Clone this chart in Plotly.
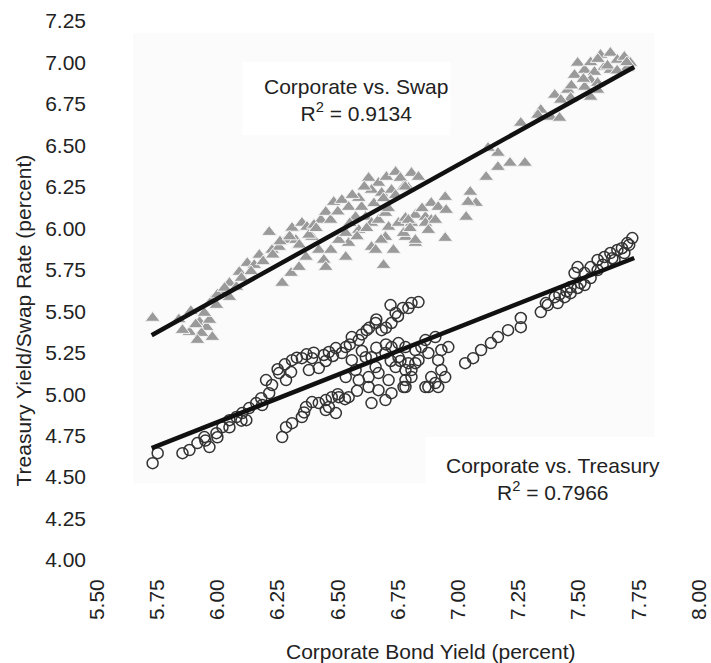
import plotly.graph_objects as go

# Corporate vs. Swap (grey triangles)
swap_x = [5.731, 5.884, 5.926, 5.955, 5.967, 5.934, 5.855, 5.979, 5.917, 5.946,
          6.017, 6.050, 6.091, 6.124, 6.079, 5.979, 5.996, 6.050,
          6.215, 6.227, 6.256, 6.285, 6.310, 6.351, 6.372, 6.326, 6.393, 6.269,
          6.306, 6.339, 6.368, 6.421, 6.442, 6.471, 6.450, 6.533, 6.545, 6.504,
          6.430, 6.450, 6.483, 6.517, 6.545, 6.574, 6.599, 6.616, 6.640, 6.669,
          6.698, 6.711, 6.752, 6.781, 6.806, 6.822, 6.864, 6.888, 6.888,
          6.628, 6.669, 6.702, 6.740, 6.760, 6.806, 6.835, 6.640, 6.682, 6.723,
          6.793, 6.587,
          6.640, 6.657, 6.731, 6.690, 6.822, 6.781, 6.698, 6.587, 6.533,
          6.773, 7.050, 7.074, 7.041, 6.946, 6.917, 6.950, 7.033, 6.864, 6.793,
          6.905, 6.946, 6.822, 6.876, 6.773,
          7.165, 7.124, 7.215, 7.277, 7.165, 7.116, 7.260,
          7.343, 7.384, 7.421, 7.331,
          7.496, 7.525, 7.566, 7.591, 7.632, 7.661, 7.690, 7.715, 7.607, 7.550,
          7.579, 7.525, 7.579, 7.483, 7.455, 7.467, 7.401, 7.426, 7.550, 7.632,
          7.702, 6.174, 6.153, 6.401,
          6.000, 6.030, 6.100, 6.140, 6.190, 6.230, 6.260, 6.300, 6.340, 6.380,
          6.410, 6.470, 6.500, 6.560, 6.610, 6.650, 6.690, 6.740, 6.780, 6.710,
          6.620, 6.580, 6.550, 6.680, 6.850, 6.800, 5.840, 5.890, 5.910, 7.470,
          7.520, 7.620, 7.660, 7.700, 7.550, 7.580]
swap_y = [5.459, 5.374, 5.435, 5.404, 5.447, 5.368, 5.386, 5.344, 5.326, 5.489,
          5.615, 5.670, 5.736, 5.790, 5.646, 5.567, 5.537, 5.585,
          5.977, 5.869, 5.887, 5.929, 6.002, 6.032, 6.008, 5.929, 5.947, 5.670,
          5.730, 5.766, 5.827, 5.869, 5.809, 5.869, 5.766, 5.827, 5.911, 5.929,
          6.050, 6.098, 6.158, 6.170, 6.128, 6.068, 6.128, 6.068, 6.032, 6.050,
          6.092, 6.008, 6.032, 6.062, 6.032, 6.080, 6.068, 6.050, 6.152,
          6.303, 6.273, 6.309, 6.339, 6.303, 6.333, 6.309, 6.231, 6.213, 6.231,
          6.243, 6.182,
          5.887, 5.869, 5.869, 5.778, 5.911, 5.947, 5.947, 5.989, 5.971,
          6.249, 6.219, 6.152, 6.158, 6.188, 6.128, 6.110, 6.068, 6.032, 6.050,
          6.050, 5.941, 5.929, 5.989, 5.971,
          6.454, 6.484, 6.394, 6.394, 6.369, 6.309, 6.635,
          6.713, 6.671, 6.665, 6.683,
          6.997, 6.954, 6.942, 7.045, 7.057, 7.015, 7.033, 6.997, 6.973, 6.894,
          6.876, 6.852, 6.834, 6.924, 6.834, 6.786, 6.804, 6.774, 6.792, 6.954,
          6.967, 5.839, 5.778, 6.020,
          5.600, 5.640, 5.700, 5.740, 5.800, 5.840, 5.920, 5.950, 5.900, 5.960,
          6.000, 6.050, 6.100, 6.200, 6.250, 6.150, 6.180, 6.200, 6.250, 6.120,
          6.000, 5.950, 6.030, 5.930, 6.120, 6.000, 5.450, 5.500, 5.420, 6.860,
          6.900, 6.980, 6.950, 7.000, 7.000, 7.020]

# Corporate vs. Treasury (open circles)
treas_x = [5.731, 5.752, 5.855, 5.884, 5.917, 5.946, 5.967, 5.996, 6.021, 6.050,
           6.079, 6.103, 6.120, 6.132, 6.161, 6.182, 6.186, 6.215, 6.202, 6.227,
           6.256, 6.285, 6.306, 6.310, 6.351, 6.393, 6.380, 6.421, 6.442, 6.463,
           6.492, 6.517, 6.533, 6.558, 6.587, 6.620, 6.657, 6.682, 6.723, 6.719,
           6.740, 6.806, 6.835, 6.793,
           6.269, 6.285, 6.310, 6.351, 6.368, 6.393, 6.450, 6.475, 6.504, 6.545,
           6.450, 6.492, 6.421, 6.463,
           6.640, 6.698, 6.723, 6.669, 6.781, 6.628, 6.669, 6.711, 6.740, 6.781,
           6.806, 6.822, 6.752, 6.698, 6.723, 6.752, 6.640, 6.657, 6.574, 6.533,
           6.587, 6.628, 6.616, 6.558,
           6.847, 6.876, 6.905, 6.930, 6.959, 6.917, 6.864, 6.905, 6.930, 6.946,
           6.888,
           6.781, 6.822, 6.864, 6.835, 6.793, 6.806, 6.781, 6.773, 6.876, 6.917,
           7.029, 7.062, 7.095, 7.136, 7.165, 7.207, 7.260, 7.260,
           7.343, 7.372, 7.413, 7.442, 7.467, 7.496, 7.525,
           7.496, 7.525, 7.550, 7.579, 7.607, 7.632, 7.661, 7.702, 7.723, 7.483,
           7.508, 7.467, 7.401, 7.364, 7.579, 7.649, 7.690,
           6.250, 6.280, 6.330, 6.370, 6.400, 6.450, 6.480, 6.550, 6.600, 6.630,
           6.660, 6.700, 6.750, 6.770, 6.600, 6.660, 6.700, 6.720, 6.760, 6.500,
           6.530, 6.580, 6.360, 6.050, 6.100, 6.000, 5.950, 7.550, 7.600, 7.640,
           7.680, 7.710, 7.450, 7.420]
treas_y = [4.584, 4.644, 4.644, 4.663, 4.705, 4.741, 4.681, 4.765, 4.801, 4.843,
           4.862, 4.886, 4.843, 4.916, 4.946, 4.976, 4.934, 5.006, 5.085, 5.055,
           5.127, 5.085, 5.133, 5.205, 5.217, 5.217, 5.145, 5.157, 5.236, 5.254,
           5.278, 5.248, 5.284, 5.344, 5.326, 5.386, 5.429, 5.386, 5.429, 5.537,
           5.489, 5.549, 5.555, 5.519,
           4.741, 4.801, 4.825, 4.862, 4.922, 4.952, 4.964, 4.982, 4.982, 4.982,
           4.904, 4.886, 4.946, 4.922,
           4.946, 4.964, 5.006, 5.024, 5.043, 5.103, 5.127, 5.085, 5.163, 5.145,
           5.103, 5.187, 5.223, 5.248, 5.284, 5.308, 5.223, 5.163, 5.145, 5.103,
           5.085, 5.043, 5.223, 5.205,
           5.284, 5.248, 5.344, 5.266, 5.284, 5.205, 5.043, 5.067, 5.145, 5.103,
           5.103,
           5.284, 5.266, 5.326, 5.205, 5.187, 5.145, 5.085, 5.043, 5.043, 5.043,
           5.187, 5.217, 5.266, 5.308, 5.344, 5.386, 5.404, 5.459,
           5.495, 5.537, 5.549, 5.585, 5.609, 5.640, 5.658,
           5.766, 5.730, 5.766, 5.809, 5.827, 5.851, 5.869, 5.911, 5.941, 5.730,
           5.670, 5.646, 5.585, 5.549, 5.748, 5.809, 5.851,
           5.150, 5.180, 5.220, 5.240, 5.250, 5.200, 5.230, 5.300, 5.360, 5.400,
           5.450, 5.400, 5.470, 5.520, 5.260, 5.280, 5.300, 5.200, 5.200, 5.000,
           4.970, 5.020, 4.890, 4.800, 4.840, 4.740, 4.720, 5.700, 5.780, 5.820,
           5.880, 5.900, 5.620, 5.600]

# Linear trend lines (slope, intercept) and their x extent
swap_fit = (0.807, 0.734)
treas_fit = (0.572, 1.399)
fit_x = [5.727, 7.731]

swap_label = "Corporate vs. Swap<br>R<sup>2</sup> = 0.9134"
treas_label = "Corporate vs. Treasury<br>R<sup>2</sup> = 0.7966"

x_ticks = [5.50, 5.75, 6.00, 6.25, 6.50, 6.75, 7.00, 7.25, 7.50, 7.75, 8.00]
y_ticks = [4.00, 4.25, 4.50, 4.75, 5.00, 5.25, 5.50, 5.75, 6.00, 6.25, 6.50, 6.75, 7.00, 7.25]

FONT = "Liberation Sans, Arial, Helvetica, sans-serif"
TXT = "#222222"

fig = go.Figure()

fig.add_trace(go.Scatter(
    x=swap_x, y=swap_y, mode="markers",
    marker=dict(symbol="triangle-up", size=13, color="#9a9a9a",
                line=dict(color="#f4f4f4", width=1)),
    showlegend=False, hoverinfo="x+y"))

fig.add_trace(go.Scatter(
    x=treas_x, y=treas_y, mode="markers",
    marker=dict(symbol="circle-open", size=11, color="#333333",
                line=dict(color="#333333", width=1.5)),
    showlegend=False, hoverinfo="x+y"))

for slope, icpt in (swap_fit, treas_fit):
    fig.add_trace(go.Scatter(
        x=fit_x, y=[slope * v + icpt for v in fit_x], mode="lines",
        line=dict(color="#111111", width=4.5), showlegend=False, hoverinfo="skip"))

# faint plot-area background and white label boxes
fig.add_shape(type="rect", xref="x", yref="y", x0=5.649, x1=7.814, y0=4.463, y1=7.178,
              fillcolor="#fbfbfb", line=dict(width=0), layer="below")
fig.add_shape(type="rect", xref="x", yref="y", x0=6.103, x1=6.967, y0=6.562, y1=7.003,
              fillcolor="#ffffff", line=dict(width=0), layer="below")
fig.add_shape(type="rect", xref="x", yref="y", x0=6.864, x1=7.9, y0=4.40, y1=4.741,
              fillcolor="#ffffff", line=dict(width=0), layer="below")

annos = [
    dict(x=6.574, y=6.774, xref="x", yref="y", text=swap_label, showarrow=False,
         xanchor="center", yanchor="middle",
         font=dict(family=FONT, size=21, color=TXT)),
    dict(x=7.393, y=4.491, xref="x", yref="y", text=treas_label, showarrow=False,
         xanchor="center", yanchor="middle",
         font=dict(family=FONT, size=21, color=TXT)),
    dict(x=0.554, y=-0.169, xref="paper", yref="paper",
         text="Corporate Bond Yield (percent)", showarrow=False,
         xanchor="center", yanchor="middle",
         font=dict(family=FONT, size=21, color=TXT)),
    dict(x=-0.1223, y=0.445, xref="paper", yref="paper",
         text="Treasury Yield/Swap Rate (percent)", showarrow=False,
         textangle=-90, xanchor="center", yanchor="middle",
         font=dict(family=FONT, size=21, color=TXT)),
]

fig.update_layout(
    width=711, height=663,
    margin=dict(l=97, r=12, t=21, b=103, pad=0),
    paper_bgcolor="white", plot_bgcolor="white",
    annotations=annos,
    font=dict(family=FONT, size=21, color=TXT),
)
fig.update_xaxes(range=[5.5, 8.0], tickvals=x_ticks,
                 ticktext=[f"{v:.2f}" for v in x_ticks], tickangle=-90,
                 showgrid=False, zeroline=False, showline=False, ticks="",
                 ticklabeloverflow="allow", automargin=False,
                 ticklabelstandoff=14, tickfont=dict(family=FONT, size=21, color=TXT))
fig.update_yaxes(range=[4.0, 7.25], tickvals=y_ticks,
                 ticktext=[f"{v:.2f}" for v in y_ticks],
                 showgrid=False, zeroline=False, showline=False, ticks="",
                 automargin=False,
                 ticklabelstandoff=10, tickfont=dict(family=FONT, size=21, color=TXT))

fig.write_html("out.html")
